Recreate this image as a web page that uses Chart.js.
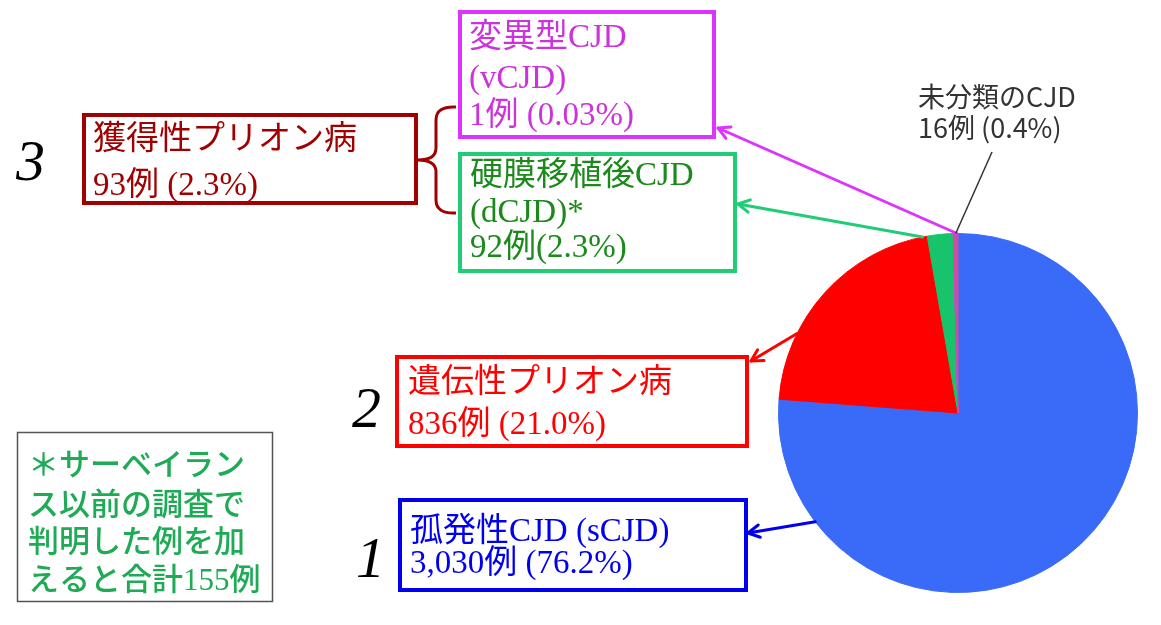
<!DOCTYPE html>
<html>
<head>
<meta charset="utf-8">
<script src="https://cdn.jsdelivr.net/npm/chart.js@4.4.1/dist/chart.umd.min.js"></script>
<style>
  html, body { margin: 0; padding: 0; background: #ffffff; }
  #wrap { width: 1161px; height: 625px; position: relative; }
</style>
</head>
<body>
<div id="wrap"><canvas id="c" width="1161" height="625"></canvas></div>
<script>
// ---- data ----
const categories = ['孤発性CJD (sCJD)', '遺伝性プリオン病', '硬膜移植後CJD (dCJD)', '変異型CJD (vCJD)', '未分類のCJD'];
const cases = [3030, 836, 92, 1, 16];
const percents = ['76.2%', '21.0%', '2.3%', '0.03%', '0.4%'];
const sliceColors = ['#3a6af8', '#ff0000', '#17c46c', '#dd33ff', '#cc4f9f'];
const acquiredLabel = '獲得性プリオン病';
const acquiredCases = 93;
const acquiredPercent = '2.3%';
const groupNumbers = ['1', '2', '3'];
const noteLines = ['＊サーベイラン', 'ス以前の調査で', '判明した例を加', 'えると合計155例'];

const SERIF = '"Liberation Serif", "Noto Sans CJK JP", serif';
const SANS = '"Noto Sans CJK JP", "Noto Sans", sans-serif';
const BOXFONT = '33px ' + SERIF;

function fmt(n) { return n.toLocaleString('en-US'); }

const annotationPlugin = {
  id: 'annotations',
  afterDraw(chart) {
    const ctx = chart.ctx;
    const meta = chart.getDatasetMeta(0);
    const a0 = meta.data[0];
    const cx = a0.x, cy = a0.y, R = a0.outerRadius;
    const edge = (deg) => {
      const r = (deg - 90) * Math.PI / 180;
      return [cx + R * Math.cos(r), cy + R * Math.sin(r)];
    };

    function box(x1, y1, x2, y2, color, lw) {
      ctx.save();
      ctx.strokeStyle = color; ctx.lineWidth = lw;
      ctx.strokeRect(x1, y1, x2 - x1, y2 - y1);
      ctx.restore();
    }
    function text(str, x, y, font, color) {
      ctx.save();
      ctx.font = font; ctx.fillStyle = color;
      ctx.textBaseline = 'alphabetic'; ctx.textAlign = 'left';
      ctx.fillText(str, x, y);
      ctx.restore();
    }
    function arrow(deg, tx, ty, color) {
      const [sx, sy] = edge(deg);
      ctx.save();
      ctx.strokeStyle = color; ctx.lineWidth = 3; ctx.lineCap = 'round'; ctx.lineJoin = 'round';
      ctx.beginPath(); ctx.moveTo(sx, sy); ctx.lineTo(tx, ty); ctx.stroke();
      const ang = Math.atan2(sy - ty, sx - tx);
      const L = 13, spread = 0.5;
      ctx.beginPath();
      ctx.moveTo(tx + L * Math.cos(ang + spread), ty + L * Math.sin(ang + spread));
      ctx.lineTo(tx, ty);
      ctx.lineTo(tx + L * Math.cos(ang - spread), ty + L * Math.sin(ang - spread));
      ctx.stroke();
      ctx.restore();
    }

    // --- arrows from pie ---
    arrow(359.7, 718, 128, '#dd33ff');
    arrow(348.6, 738, 204, '#22cc77');
    arrow(296.3, 751, 361, '#ff0000');
    arrow(232.7, 748, 533, '#0000ee');

    // --- leader for unclassified ---
    const p4 = meta.data[4];
    const mid4 = (p4.startAngle + p4.endAngle) / 2;
    ctx.save();
    ctx.strokeStyle = '#333333'; ctx.lineWidth = 1.5;
    ctx.beginPath();
    ctx.moveTo(992, 152);
    ctx.lineTo(cx + R * Math.cos(mid4), cy + R * Math.sin(mid4));
    ctx.stroke();
    ctx.restore();
    text('未分類のCJD', 918, 107, '27px ' + SANS, '#333333');
    text(fmt(cases[4]) + '例 (' + percents[4] + ')', 918, 138, '27px ' + SANS, '#333333');

    // --- vCJD box ---
    box(460, 12, 714, 137, '#dd33ff', 4);
    text('変異型CJD', 469, 47, BOXFONT, '#cc33dd');
    text('(vCJD)', 469, 88, BOXFONT, '#cc33dd');
    text(fmt(cases[3]) + '例 (' + percents[3] + ')', 469, 125, BOXFONT, '#cc33dd');

    // --- dCJD box ---
    box(460, 154, 735, 271, '#22cc77', 4);
    text('硬膜移植後CJD', 470, 185, BOXFONT, '#1b8a1b');
    text('(dCJD)*', 470, 222, BOXFONT, '#1b8a1b');
    text(fmt(cases[2]) + '例(' + percents[2] + ')', 470, 257, BOXFONT, '#1b8a1b');

    // --- acquired box ---
    box(84, 115, 416, 203, '#a00000', 4);
    text(acquiredLabel, 93, 149, BOXFONT, '#a00000');
    text(fmt(acquiredCases) + '例 (' + acquiredPercent + ')', 93, 195, BOXFONT, '#a00000');

    // brace
    ctx.save();
    ctx.strokeStyle = '#a00000'; ctx.lineWidth = 3; ctx.lineJoin = 'round';
    ctx.beginPath();
    ctx.moveTo(456, 107);
    ctx.quadraticCurveTo(436, 106, 436, 120);
    ctx.lineTo(436, 148);
    ctx.quadraticCurveTo(436, 160, 418, 160);
    ctx.quadraticCurveTo(436, 160, 436, 172);
    ctx.lineTo(436, 200);
    ctx.quadraticCurveTo(436, 214, 456, 213);
    ctx.stroke();
    ctx.restore();

    // --- genetic box ---
    box(397, 357, 747, 446, '#ff0000', 4);
    text(categories[1], 408, 392, BOXFONT, '#ff0000');
    text(fmt(cases[1]) + '例 (' + percents[1] + ')', 408, 434, BOXFONT, '#ff0000');

    // --- sporadic box ---
    box(400, 500, 746, 590, '#0000ee', 4);
    text(categories[0], 410, 541, BOXFONT, '#0000ee');
    text(fmt(cases[0]) + '例 (' + percents[0] + ')', 410, 573, BOXFONT, '#0000ee');

    // --- group numbers ---
    text(groupNumbers[2], 16, 180, 'italic 58px ' + SERIF, '#000000');
    text(groupNumbers[1], 352, 427, 'italic 58px ' + SERIF, '#000000');
    text(groupNumbers[0], 356, 577, 'italic 58px ' + SERIF, '#000000');

    // --- note box ---
    box(17.5, 432.5, 272.5, 601.5, '#555555', 1.5);
    const noteY = [475, 515, 552, 590];
    noteLines.forEach((ln, i) => {
      text(ln, 28, noteY[i], '500 31px ' + SERIF, '#1faa55');
    });
  }
};

new Chart(document.getElementById('c'), {
  type: 'pie',
  data: {
    labels: categories,
    datasets: [{
      data: cases,
      backgroundColor: sliceColors,
      borderColor: sliceColors,
      borderWidth: 1
    }]
  },
  options: {
    responsive: false,
    animation: false,
    devicePixelRatio: 1,
    layout: { padding: { left: 778, right: 23, top: 233, bottom: 32 } },
    plugins: {
      legend: { display: false },
      tooltip: { enabled: false },
      title: { display: false }
    }
  },
  plugins: [annotationPlugin]
});
</script>
</body>
</html>
